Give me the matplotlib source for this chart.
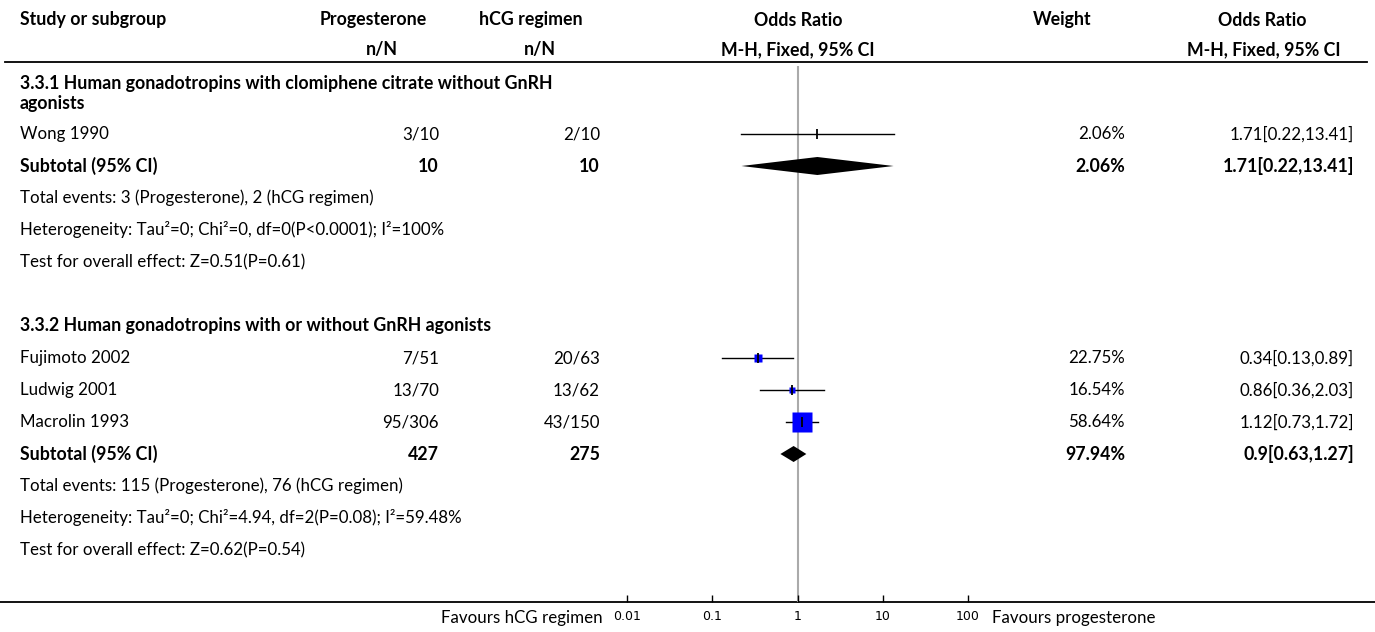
import numpy as np
import matplotlib.pyplot as plt

plt.rcParams['font.family'] = ['Lato', 'DejaVu Sans']

# ---- data ----
group_titles = [
    ["3.3.1 Human gonadotropins with clomiphene citrate without GnRH", "agonists"],
    ["3.3.2 Human gonadotropins with or without GnRH agonists"],
]
study_names = [["Wong 1990"], ["Fujimoto 2002", "Ludwig 2001", "Macrolin 1993"]]
prog_events = [["3/10"], ["7/51", "13/70", "95/306"]]
hcg_events = [["2/10"], ["20/63", "13/62", "43/150"]]
weights = [[2.06], [22.75, 16.54, 58.64]]
odds = [[1.71], [0.34, 0.86, 1.12]]
ci_low = [[0.22], [0.13, 0.36, 0.73]]
ci_high = [[13.41], [0.89, 2.03, 1.72]]

sub_prog_total = [10, 427]
sub_hcg_total = [10, 275]
sub_weight = [2.06, 97.94]
sub_or = [1.71, 0.9]
sub_low = [0.22, 0.63]
sub_high = [13.41, 1.27]
sub_or_text = ["1.71[0.22,13.41]", "0.9[0.63,1.27]"]
or_text = [["1.71[0.22,13.41]"], ["0.34[0.13,0.89]", "0.86[0.36,2.03]", "1.12[0.73,1.72]"]]

total_events = ["Total events: 3 (Progesterone), 2 (hCG regimen)",
                "Total events: 115 (Progesterone), 76 (hCG regimen)"]
heterogeneity = ["Heterogeneity: Tau\u00b2=0; Chi\u00b2=0, df=0(P<0.0001); I\u00b2=100%",
                 "Heterogeneity: Tau\u00b2=0; Chi\u00b2=4.94, df=2(P=0.08); I\u00b2=59.48%"]
overall_test = ["Test for overall effect: Z=0.51(P=0.61)",
                "Test for overall effect: Z=0.62(P=0.54)"]

ticks = [0.01, 0.1, 1, 10, 100]
tick_labels = ["0.01", "0.1", "1", "10", "100"]

# ---- layout (pixels) ----
W, H = 1375, 632
fs = 12.2
fsb = 12.8
x_name, x_prog, x_hcg, x_wt, x_or = 20, 439, 600, 1125, 1354
row_h = 32.0
first_row = 134

fig = plt.figure(figsize=(W / 100, H / 100), dpi=100)
ax = fig.add_axes([0, 0, 1, 1])
ax.set_xlim(0, W)
ax.set_ylim(H, 0)
ax.axis('off')

fx = fig.add_axes([627 / W, (H - 602) / H, (968 - 627) / W, (602 - 66) / H])
fx.set_xscale('log')
fx.set_xlim(0.01, 100)
fx.set_ylim(602, 66)
fx.patch.set_alpha(0)
for s in fx.spines.values():
    s.set_visible(False)
fx.set_yticks([])
fx.set_xticks(ticks)
fx.set_xticklabels(tick_labels, fontfamily='DejaVu Sans', fontsize=9)
fx.minorticks_off()
fx.tick_params(axis='x', direction='in', length=5, width=1, pad=6)
fx.axvline(1, color='#aaaaaa', lw=1.5, zorder=0)

# headers
hdr = dict(fontsize=fsb, fontweight='bold', va='center')
ax.text(x_name, 20, "Study or subgroup", ha='left', **hdr)
ax.text(373, 20, "Progesterone", ha='center', **hdr)
ax.text(382, 50, "n/N", ha='center', **hdr)
ax.text(531, 20, "hCG regimen", ha='center', **hdr)
ax.text(540, 50, "n/N", ha='center', **hdr)
ax.text(798, 20, "Odds Ratio", ha='center', **hdr)
ax.text(798, 50, "M-H, Fixed, 95% CI", ha='center', **hdr)
ax.text(1062, 20, "Weight", ha='center', **hdr)
ax.text(1262, 20, "Odds Ratio", ha='center', **hdr)
ax.text(1264, 50, "M-H, Fixed, 95% CI", ha='center', **hdr)
ax.plot([5, 1367], [62, 62], color='black', lw=1.3)
ax.plot([0, W], [602, 602], color='black', lw=1.3)

row = 0
for g in range(len(group_titles)):
    # group title
    if len(group_titles[g]) == 2:
        ax.text(x_name, 84, group_titles[g][0], ha='left', va='center', fontsize=fsb, fontweight='bold')
        ax.text(x_name, 103, group_titles[g][1], ha='left', va='center', fontsize=fsb, fontweight='bold')
    else:
        ax.text(x_name, first_row + (row - 1) * row_h, group_titles[g][0],
                ha='left', va='center', fontsize=fsb, fontweight='bold')
    for i, name in enumerate(study_names[g]):
        y = first_row + row * row_h
        ax.text(x_name, y, name, ha='left', va='center', fontsize=fs)
        ax.text(x_prog, y, prog_events[g][i], ha='right', va='center', fontsize=fs)
        ax.text(x_hcg, y, hcg_events[g][i], ha='right', va='center', fontsize=fs)
        ax.text(x_wt, y, f"{weights[g][i]:.2f}%", ha='right', va='center', fontsize=fs)
        ax.text(x_or, y, or_text[g][i], ha='right', va='center', fontsize=fs)
        fx.plot([ci_low[g][i], ci_high[g][i]], [y, y], color='black', lw=1.0, zorder=2)
        side = 0.33 * weights[g][i] * 0.72
        fx.plot(odds[g][i], y, marker='s', ms=side, color='#0000ff', mec='none', zorder=3)
        fx.plot(odds[g][i], y, marker='|', ms=6.5, mew=1.3, color='black', zorder=4)
        row += 1
    # subtotal
    y = first_row + row * row_h
    ax.text(x_name, y, "Subtotal (95% CI)", ha='left', va='center', fontsize=fsb, fontweight='bold')
    ax.text(x_prog, y, str(sub_prog_total[g]), ha='right', va='center', fontsize=fsb, fontweight='bold')
    ax.text(x_hcg, y, str(sub_hcg_total[g]), ha='right', va='center', fontsize=fsb, fontweight='bold')
    ax.text(x_wt, y, f"{sub_weight[g]:.2f}%", ha='right', va='center', fontsize=fsb, fontweight='bold')
    ax.text(x_or, y, sub_or_text[g], ha='right', va='center', fontsize=fsb, fontweight='bold')
    dh = 9 if g == 0 else 8
    fx.fill([sub_low[g], sub_or[g], sub_high[g], sub_or[g]], [y, y - dh, y, y + dh],
            color='black', lw=0, zorder=3)
    row += 1
    for txt in (total_events[g], heterogeneity[g], overall_test[g]):
        y = first_row + row * row_h
        ax.text(x_name, y, txt, ha='left', va='center', fontsize=fs)
        row += 1
    row += 2  # blank row + next group title

ax.text(603, 618, "Favours hCG regimen", ha='right', va='center', fontsize=fs)
ax.text(992, 618, "Favours progesterone", ha='left', va='center', fontsize=fs)

fig.savefig("out.png", dpi=100)
